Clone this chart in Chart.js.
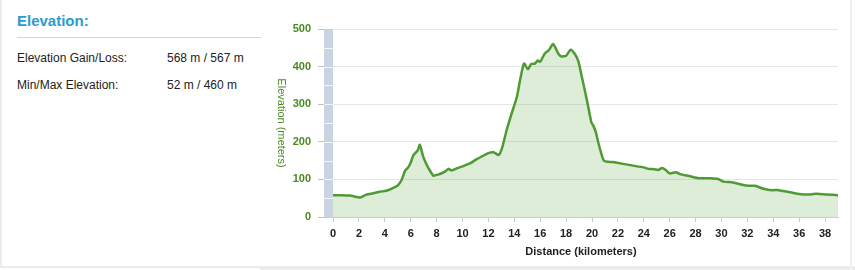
<!DOCTYPE html>
<html>
<head>
<meta charset="utf-8">
<script src="https://cdn.jsdelivr.net/npm/chart.js@4.4.1/dist/chart.umd.min.js"></script>
<style>
  html, body { margin: 0; padding: 0; background: #fff; }
  body { width: 855px; height: 270px; position: relative; overflow: hidden; font-family: Arial, "Liberation Sans", sans-serif; }
  .left { position: absolute; left: 0; top: 0; width: 258px; height: 266px; border-left: 2px solid #ececec; border-bottom: 2px solid #ececec; }
  .left h3 { position: absolute; left: 15px; top: 12px; margin: 0; font-size: 15px; font-weight: bold; color: #2b9bd0; }
  .left .rule { position: absolute; left: 15px; top: 37px; width: 244px; height: 1px; background: #d6d6d6; }
  .row { position: absolute; left: 15px; font-size: 12px; color: #222; }
  .row span { position: absolute; left: 150px; white-space: nowrap; }
  .bottom-strip { position: absolute; left: 260px; top: 266px; width: 595px; height: 4px; background: #ececec; }
  .right-edge { position: absolute; left: 850px; top: 0; width: 2px; height: 270px; background: #efefef; }
  #wrap { position: absolute; left: 265px; top: 0; width: 590px; height: 270px; }
</style>
</head>
<body>
<div class="left">
  <h3>Elevation:</h3>
  <div class="rule"></div>
  <div class="row" style="top:51px">Elevation Gain/Loss:<span>568 m / 567 m</span></div>
  <div class="row" style="top:78px">Min/Max Elevation:<span>52 m / 460 m</span></div>
</div>
<div class="bottom-strip"></div>
<div class="right-edge"></div>
<div id="wrap"><canvas id="elev"></canvas></div>
<script>
// profile
const distances = [0, 0.6, 1.3, 2.1, 2.3, 2.6, 3.1, 3.6, 4.1, 4.5, 5.0, 5.3, 5.55, 5.8, 6.0, 6.2, 6.4, 6.55, 6.7,
  6.95, 7.15, 7.4, 7.75, 8.0, 8.3, 8.7, 8.9, 9.15, 9.6, 10.1, 10.6, 11.1, 11.5, 12.0, 12.4, 12.8, 13.05,
  13.4, 13.8, 14.2, 14.45, 14.75, 15.05, 15.3, 15.6, 15.8, 16.0, 16.35, 16.65, 17.0, 17.4, 17.65, 18.0,
  18.35, 18.7, 18.95, 19.2, 19.6, 19.95, 20.1, 20.3, 20.5, 20.75, 20.95, 21.6, 22.3, 22.95, 23.6, 24.0,
  24.35, 24.8, 25.1, 25.4, 25.7, 26.0, 26.5, 26.8, 27.5, 28.3, 29.1, 29.75, 30.15, 30.9, 31.7, 32.1, 32.6,
  33.25, 33.9, 34.3, 35.3, 36.0, 36.4, 36.9, 37.35, 38.1, 39.0];
const elevations = [58, 58, 57, 52, 55, 60, 63, 67, 70, 75, 84, 99, 122, 132, 145, 164, 172, 178, 192,
  162, 145, 128, 110, 112, 115, 122, 128, 124, 130, 136, 143, 154, 161, 170, 172, 165, 183,
  230, 276, 320, 365, 408, 393, 407, 408, 416, 413, 435, 443, 460, 434, 427, 429,
  445, 432, 414, 375, 312, 252, 243, 225, 196, 165, 149, 146, 142, 138, 134, 132,
  128, 127, 125, 130, 125, 116, 119, 114, 109, 103, 103, 101, 94, 92, 85, 83, 83,
  75, 71, 72, 66, 61, 60, 60, 62, 60, 58];

const xTicks = [0, 2, 4, 6, 8, 10, 12, 14, 16, 18, 20, 22, 24, 26, 28, 30, 32, 34, 36, 38];
const yTicks = [0, 100, 200, 300, 400, 500];
const bandRange = [-0.7, 0];

const green = '#4f9a35';
const labelGreen = '#4a8a22';

// left band and rotated y title
const extrasPlugin = {
  id: 'extras',
  beforeDatasetsDraw(chart) {
    const { ctx, chartArea, scales } = chart;
    const x0 = scales.x.getPixelForValue(bandRange[0]);
    const x1 = scales.x.getPixelForValue(bandRange[1]);
    ctx.save();
    ctx.fillStyle = '#c8d4e1';
    ctx.fillRect(x0, chartArea.top, x1 - x0, chartArea.bottom - chartArea.top);
    ctx.strokeStyle = 'rgba(255,255,255,0.8)';
    ctx.lineWidth = 1;
    for (let v = 50; v < 500; v += 50) {
      const py = Math.round(scales.y.getPixelForValue(v)) + 0.5;
      ctx.beginPath();
      ctx.moveTo(x0, py);
      ctx.lineTo(x1, py);
      ctx.stroke();
    }
    ctx.restore();
  },
  afterDraw(chart) {
    const { ctx, chartArea } = chart;
    ctx.save();
    ctx.translate(16, (chartArea.top + chartArea.bottom) / 2);
    ctx.rotate(Math.PI / 2);
    ctx.fillStyle = labelGreen;
    ctx.font = '11px Arial, "Liberation Sans", sans-serif';
    ctx.textAlign = 'center';
    ctx.textBaseline = 'middle';
    ctx.fillText('Elevation (meters)', 0, 0);
    ctx.restore();
  }
};

const points = distances.map((d, i) => ({ x: d, y: elevations[i] }));

new Chart(document.getElementById('elev').getContext('2d'), {
  type: 'line',
  data: {
    datasets: [{
      data: points,
      borderColor: green,
      borderWidth: 2.5,
      backgroundColor: 'rgba(90,165,60,0.2)',
      fill: 'origin',
      pointRadius: 0,
      tension: 0.2
    }]
  },
  options: {
    responsive: true,
    maintainAspectRatio: false,
    animation: false,
    layout: { padding: { top: 29, right: 17, bottom: 8, left: 0 } },
    plugins: { legend: { display: false }, tooltip: { enabled: false } },
    scales: {
      x: {
        type: 'linear',
        min: bandRange[0],
        max: 39,
        afterBuildTicks: scale => { scale.ticks = xTicks.map(v => ({ value: v })); },
        afterFit: scale => { scale.height = 45; },
        grid: { drawOnChartArea: false, drawTicks: true, tickLength: 5, tickColor: '#c0d0e0' },
        border: { display: true, color: '#c0d0e0' },
        ticks: { color: '#222', padding: 5, maxRotation: 0, autoSkip: false, font: { size: 11, weight: 'bold', family: 'Arial, "Liberation Sans", sans-serif' } },
        title: { display: true, text: 'Distance (kilometers)', color: '#222', padding: { top: 0, bottom: 3 }, font: { size: 11, weight: 'bold', family: 'Arial, "Liberation Sans", sans-serif' } }
      },
      y: {
        min: 0,
        max: 500,
        afterBuildTicks: scale => { scale.ticks = yTicks.map(v => ({ value: v })); },
        afterFit: scale => { scale.width = 59; },
        grid: { color: '#e6e6e6', tickLength: 6, tickColor: '#c0c0c0' },
        border: { display: false },
        ticks: { color: labelGreen, padding: 7, font: { size: 11, weight: 'bold', family: 'Arial, "Liberation Sans", sans-serif' } }
      }
    }
  },
  plugins: [extrasPlugin]
});
</script>
</body>
</html>
